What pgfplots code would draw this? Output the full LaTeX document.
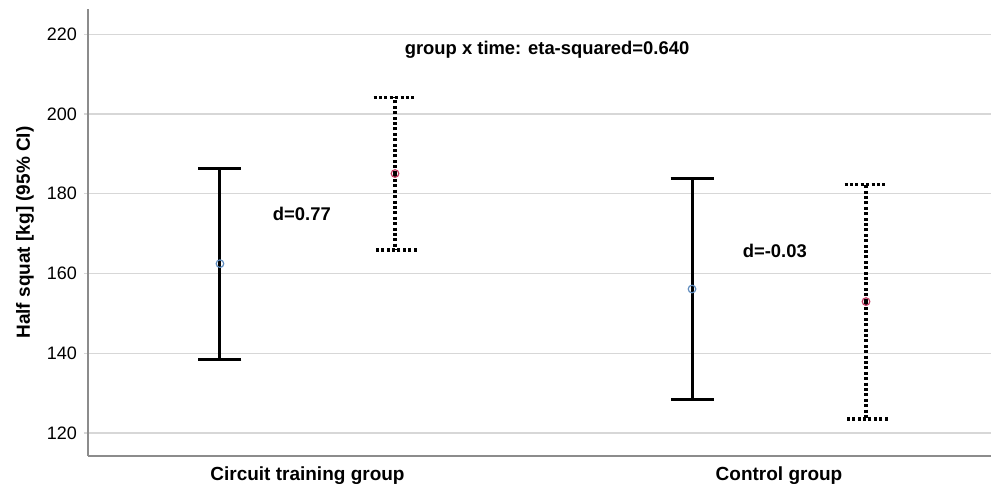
\documentclass[border=0pt]{standalone}
\usepackage{fontspec}
\setmainfont{Liberation Sans}
\usepackage{pgfplots}
\pgfplotsset{compat=1.18}
\usetikzlibrary{calc}
\definecolor{gridgray}{RGB}{215,215,215}
\definecolor{axisgray}{RGB}{140,140,140}
\definecolor{preblue}{RGB}{95,140,190}
\definecolor{postred}{RGB}{195,60,100}

\begin{document}
\begin{tikzpicture}
\begin{axis}[
    scale only axis,
    width=451.5pt, height=223.5pt,
    xmin=0.5345, xmax=2.4496,
    ymin=114.24, ymax=226.3,
    axis x line=bottom, axis y line=left,
    axis line style={-, axisgray, line width=0.6pt},
    xtick={1,2},
    xticklabels={Circuit training group, Control group},
    xticklabel style={font=\fontsize{9.5}{11}\selectfont\bfseries},
    x tick style={draw=none},
    ytick={120,140,...,220},
    yticklabel style={font=\fontsize{9}{10}\selectfont},
    /pgf/number format/assume math mode=true,
    tick align=outside, major tick length=2pt,
    y tick style={gridgray, line width=0.6pt},
    ymajorgrids, grid style={gridgray, line width=0.6pt},
    ylabel={Half squat [kg] (95\% CI)},
    ylabel style={font=\fontsize{9.5}{11}\selectfont\bfseries,
        at={(axis description cs:-0.0698,0.5)}, anchor=center},
    clip=false,
]
% pre (solid)
\addplot[only marks, mark=o, mark size=1.9pt,
    mark options={preblue, line width=0.6pt},
    error bars/.cd, y dir=both, y explicit, error mark=|,
    error bar style={black, line width=1.5pt},
    error mark options={black, line width=1.5pt, mark size=10.75pt}]
coordinates {
    (0.8144,162.45) +- (0,23.95)
    (1.8155,156.1)  +- (0,27.8)
};
% post (dotted)
\addplot[only marks, mark=o, mark size=1.9pt,
    mark options={postred, line width=0.6pt},
    error bars/.cd, y dir=both, y explicit, error mark=|,
    error bar style={black, line width=1.6pt, dash pattern=on 1.5pt off 1.2pt},
    error mark options={black, line width=1.6pt, mark size=10.75pt, dash pattern=on 1.5pt off 1.2pt}]
coordinates {
    (1.1856,185.05) +- (0,19.15)
    (2.1845,152.95) +- (0,29.45)
};
\node[font=\fontsize{9.2}{11}\selectfont\bfseries] at (axis cs:1.508,216.2) {group x time: eta-squared=0.640};
\node[font=\fontsize{9.2}{11}\selectfont\bfseries] at (axis cs:0.988,174.9) {d=0.77};
\node[font=\fontsize{9.2}{11}\selectfont\bfseries] at (axis cs:1.991,165.6) {d=-0.03};
\end{axis}
\pgfresetboundingbox
\path ($(current axis.south west)+(-44pt,-13.5pt)$) rectangle ($(current axis.north east)+(1pt,4.5pt)$);
\end{tikzpicture}
\end{document}
